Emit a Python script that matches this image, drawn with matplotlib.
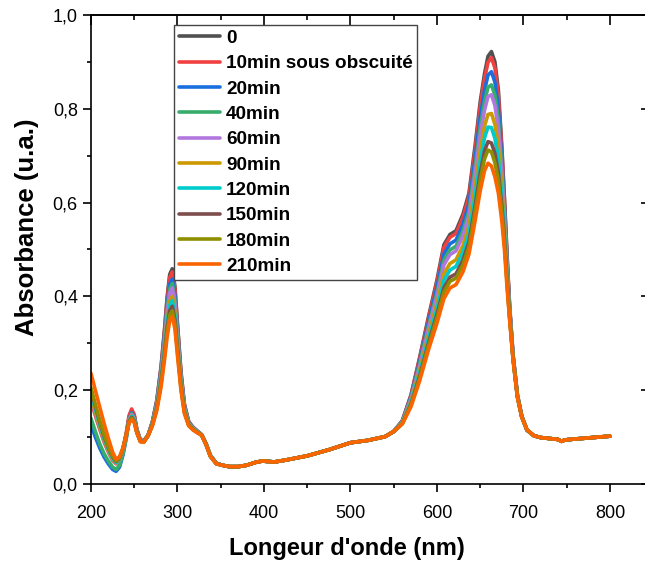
import matplotlib
matplotlib.use("Agg")
import matplotlib.pyplot as plt
from matplotlib.ticker import MultipleLocator, FuncFormatter

plt.rcParams['font.family'] = ['Liberation Sans', 'DejaVu Sans']

# Wavelength grids (nm)
wl_uv = [200, 205, 210, 215, 220, 225, 229, 233, 237, 241, 244, 247, 250, 253,
         257, 261, 266, 271, 276, 281, 285, 288, 291, 294, 297, 300, 304, 308,
         313, 318, 323, 328, 333, 338, 345]
wl_mid = [352, 360, 370, 380, 390, 398, 405, 412, 425, 450, 475, 500, 520, 540, 550]
wl_vis = [560, 570, 580, 590, 600, 608, 615, 622, 630, 637, 644, 650, 655, 659,
          663, 667, 671, 675, 678, 681, 684, 688, 693, 698, 704]
wl_tail = [712, 720, 730, 740, 744, 748, 760, 780, 800]

# Region where all spectra coincide
abs_mid = [0.040, 0.037, 0.037, 0.040, 0.046, 0.049, 0.048, 0.047, 0.051, 0.060,
           0.073, 0.088, 0.093, 0.101, 0.112]
abs_tail = [0.103, 0.099, 0.097, 0.095, 0.091, 0.094, 0.096, 0.099, 0.102]

labels = ['0', '10min sous obscuité', '20min', '40min', '60min', '90min',
          '120min', '150min', '180min', '210min']
colors = ['#515151', '#F14040', '#1A6FDF', '#37AD6B', '#B177DE', '#CC9900',
          '#00CBCC', '#7D4E4E', '#8E8E00', '#FB6501']

uv_0 = [0.197, 0.163, 0.130, 0.100, 0.076, 0.056, 0.047, 0.054, 0.075, 0.110, 0.143, 0.157,
        0.146, 0.116, 0.094, 0.092, 0.104, 0.133, 0.178, 0.250, 0.330, 0.398, 0.447, 0.459,
        0.422, 0.342, 0.240, 0.170, 0.133, 0.121, 0.113, 0.105, 0.086, 0.061, 0.044]
uv_10 = [0.176, 0.146, 0.117, 0.090, 0.068, 0.050, 0.043, 0.051, 0.073, 0.111, 0.146, 0.160,
         0.148, 0.117, 0.095, 0.092, 0.104, 0.132, 0.176, 0.247, 0.325, 0.392, 0.440, 0.452,
         0.416, 0.337, 0.237, 0.169, 0.132, 0.121, 0.113, 0.105, 0.086, 0.061, 0.044]
uv_20 = [0.126, 0.100, 0.077, 0.058, 0.043, 0.031, 0.027, 0.036, 0.062, 0.100, 0.138, 0.152,
         0.142, 0.114, 0.093, 0.091, 0.104, 0.131, 0.173, 0.241, 0.316, 0.380, 0.426, 0.437,
         0.403, 0.327, 0.232, 0.166, 0.131, 0.120, 0.112, 0.105, 0.086, 0.061, 0.044]
uv_40 = [0.140, 0.112, 0.086, 0.065, 0.049, 0.036, 0.031, 0.040, 0.065, 0.101, 0.137, 0.150,
         0.140, 0.113, 0.093, 0.091, 0.104, 0.130, 0.171, 0.237, 0.309, 0.371, 0.416, 0.427,
         0.393, 0.320, 0.227, 0.164, 0.130, 0.119, 0.112, 0.105, 0.086, 0.061, 0.044]
uv_60 = [0.182, 0.151, 0.121, 0.093, 0.070, 0.052, 0.044, 0.052, 0.074, 0.106, 0.137, 0.148,
         0.139, 0.113, 0.093, 0.091, 0.104, 0.129, 0.169, 0.233, 0.304, 0.364, 0.407, 0.418,
         0.385, 0.314, 0.224, 0.162, 0.129, 0.119, 0.112, 0.104, 0.085, 0.060, 0.044]
uv_90 = [0.186, 0.154, 0.123, 0.095, 0.072, 0.053, 0.045, 0.053, 0.074, 0.106, 0.135, 0.145,
         0.137, 0.112, 0.092, 0.090, 0.103, 0.128, 0.165, 0.225, 0.292, 0.349, 0.390, 0.400,
         0.369, 0.302, 0.217, 0.159, 0.128, 0.118, 0.111, 0.104, 0.085, 0.060, 0.043]
uv_120 = [0.193, 0.160, 0.128, 0.098, 0.075, 0.055, 0.046, 0.054, 0.075, 0.106, 0.134, 0.144,
          0.136, 0.111, 0.092, 0.090, 0.103, 0.127, 0.163, 0.222, 0.286, 0.341, 0.381, 0.391,
          0.361, 0.296, 0.213, 0.157, 0.127, 0.117, 0.111, 0.104, 0.085, 0.060, 0.043]
uv_150 = [0.200, 0.166, 0.133, 0.102, 0.078, 0.058, 0.048, 0.055, 0.076, 0.106, 0.133, 0.142,
          0.134, 0.110, 0.091, 0.090, 0.103, 0.126, 0.161, 0.217, 0.279, 0.332, 0.370, 0.379,
          0.350, 0.288, 0.209, 0.154, 0.126, 0.116, 0.110, 0.104, 0.084, 0.059, 0.043]
uv_180 = [0.205, 0.170, 0.136, 0.105, 0.080, 0.059, 0.049, 0.056, 0.076, 0.106, 0.132, 0.140,
          0.133, 0.110, 0.091, 0.089, 0.103, 0.125, 0.159, 0.213, 0.273, 0.324, 0.360, 0.369,
          0.342, 0.282, 0.205, 0.153, 0.125, 0.116, 0.110, 0.104, 0.084, 0.059, 0.043]
uv_210 = [0.236, 0.200, 0.165, 0.130, 0.098, 0.068, 0.053, 0.058, 0.077, 0.106, 0.130, 0.137,
          0.131, 0.109, 0.090, 0.089, 0.103, 0.124, 0.156, 0.207, 0.265, 0.313, 0.348, 0.357,
          0.331, 0.273, 0.200, 0.150, 0.124, 0.115, 0.109, 0.104, 0.084, 0.059, 0.043]

vis_0 = [0.135, 0.190, 0.270, 0.355, 0.435, 0.510, 0.532, 0.540, 0.575, 0.620, 0.720, 0.815,
         0.875, 0.912, 0.922, 0.900, 0.840, 0.720, 0.610, 0.490, 0.380, 0.275, 0.190, 0.145, 0.115]
vis_10 = [0.135, 0.189, 0.267, 0.351, 0.430, 0.504, 0.526, 0.534, 0.568, 0.613, 0.711, 0.805,
          0.864, 0.899, 0.909, 0.887, 0.828, 0.711, 0.604, 0.486, 0.378, 0.274, 0.190, 0.145, 0.115]
vis_20 = [0.134, 0.186, 0.261, 0.343, 0.419, 0.490, 0.512, 0.520, 0.553, 0.597, 0.692, 0.782,
          0.839, 0.872, 0.879, 0.857, 0.801, 0.692, 0.591, 0.478, 0.375, 0.273, 0.189, 0.145, 0.115]
vis_40 = [0.133, 0.183, 0.256, 0.335, 0.408, 0.477, 0.499, 0.507, 0.539, 0.582, 0.674, 0.760,
          0.815, 0.846, 0.851, 0.829, 0.776, 0.674, 0.578, 0.470, 0.371, 0.272, 0.189, 0.144, 0.115]
vis_60 = [0.132, 0.181, 0.251, 0.329, 0.400, 0.467, 0.489, 0.497, 0.529, 0.571, 0.660, 0.743,
          0.797, 0.826, 0.830, 0.807, 0.757, 0.660, 0.568, 0.464, 0.369, 0.271, 0.188, 0.144, 0.115]
vis_90 = [0.131, 0.176, 0.243, 0.317, 0.385, 0.448, 0.470, 0.478, 0.508, 0.550, 0.633, 0.712,
          0.763, 0.788, 0.790, 0.767, 0.721, 0.633, 0.550, 0.452, 0.364, 0.270, 0.187, 0.144, 0.115]
vis_120 = [0.130, 0.173, 0.237, 0.309, 0.374, 0.434, 0.456, 0.464, 0.493, 0.534, 0.614, 0.689,
           0.738, 0.761, 0.760, 0.737, 0.694, 0.614, 0.537, 0.444, 0.360, 0.268, 0.187, 0.144, 0.116]
vis_150 = [0.129, 0.170, 0.230, 0.299, 0.362, 0.418, 0.441, 0.448, 0.477, 0.516, 0.592, 0.663,
           0.710, 0.730, 0.727, 0.705, 0.664, 0.592, 0.522, 0.434, 0.356, 0.267, 0.186, 0.143, 0.116]
vis_180 = [0.129, 0.168, 0.226, 0.294, 0.354, 0.409, 0.432, 0.439, 0.467, 0.506, 0.580, 0.648,
           0.693, 0.712, 0.708, 0.685, 0.647, 0.580, 0.513, 0.429, 0.354, 0.266, 0.186, 0.143, 0.116]
vis_210 = [0.128, 0.165, 0.220, 0.285, 0.343, 0.395, 0.418, 0.425, 0.452, 0.490, 0.560, 0.625,
           0.668, 0.684, 0.678, 0.655, 0.620, 0.560, 0.500, 0.420, 0.350, 0.265, 0.185, 0.143, 0.116]

uv_sets = [uv_0, uv_10, uv_20, uv_40, uv_60, uv_90, uv_120, uv_150, uv_180, uv_210]
vis_sets = [vis_0, vis_10, vis_20, vis_40, vis_60, vis_90, vis_120, vis_150, vis_180, vis_210]

W, H = 645, 562
fig = plt.figure(figsize=(W / 100, H / 100), dpi=100)
ax = fig.add_axes([91 / W, (H - 484) / H, 557 / W, 469 / H])

wl = wl_uv + wl_mid + wl_vis + wl_tail
for lab, col, uv, vis in zip(labels, colors, uv_sets, vis_sets):
    ax.plot(wl, uv + abs_mid + vis + abs_tail, color=col, lw=2.6, label=lab,
            solid_joinstyle='round', solid_capstyle='round')

ax.set_xlim(200, 844)
ax.set_ylim(0, 1.0)
ax.xaxis.set_major_locator(MultipleLocator(100))
ax.xaxis.set_minor_locator(MultipleLocator(50))
ax.yaxis.set_major_locator(MultipleLocator(0.2))
ax.yaxis.set_minor_locator(MultipleLocator(0.1))
ax.yaxis.set_major_formatter(FuncFormatter(lambda v, p: f"{v:.1f}".replace('.', ',')))

for s in ax.spines.values():
    s.set_linewidth(1.2)
ax.tick_params(which='major', direction='out', length=6, width=1.2,
               labelsize=13, colors='black')
ax.tick_params(axis='x', which='major', pad=9)
ax.tick_params(axis='y', which='major', pad=3.5)
ax.tick_params(which='minor', direction='out', length=3, width=1.2)

top = ax.secondary_xaxis('top')
top.xaxis.set_major_locator(MultipleLocator(100))
top.xaxis.set_minor_locator(MultipleLocator(50))
top.tick_params(which='major', direction='in', length=7, width=1.2, labeltop=False)
top.tick_params(which='minor', direction='in', length=3.5, width=1.2)
top.spines['top'].set_linewidth(1.2)

right = ax.secondary_yaxis('right')
right.yaxis.set_major_locator(MultipleLocator(0.2))
right.yaxis.set_minor_locator(MultipleLocator(1.0))
right.tick_params(which='major', direction='in', length=5, width=1.2, labelright=False)

ax.set_xlabel("Longeur d'onde (nm)", fontsize=17, fontweight='bold')
ax.set_ylabel("Absorbance (u.a.)", fontsize=18.5, fontweight='bold')
ax.xaxis.set_label_coords((347 - 91) / 557, (484 - 548) / 469)
ax.xaxis.label.set_va('center')
ax.yaxis.set_label_coords((27 - 91) / 557, (484 - 227) / 469)
ax.yaxis.label.set_va('center')

leg = ax.legend(loc='upper left', bbox_to_anchor=((174 - 91) / 557, (484 - 25) / 469),
                borderaxespad=0, frameon=True, fancybox=False, framealpha=1,
                edgecolor='#444444', prop={'weight': 'bold', 'size': 13.6},
                handlelength=2.2, handletextpad=0.3, labelspacing=0.43,
                borderpad=0.25)
leg.get_frame().set_linewidth(1.0)

fig.savefig('out.png', dpi=100)
